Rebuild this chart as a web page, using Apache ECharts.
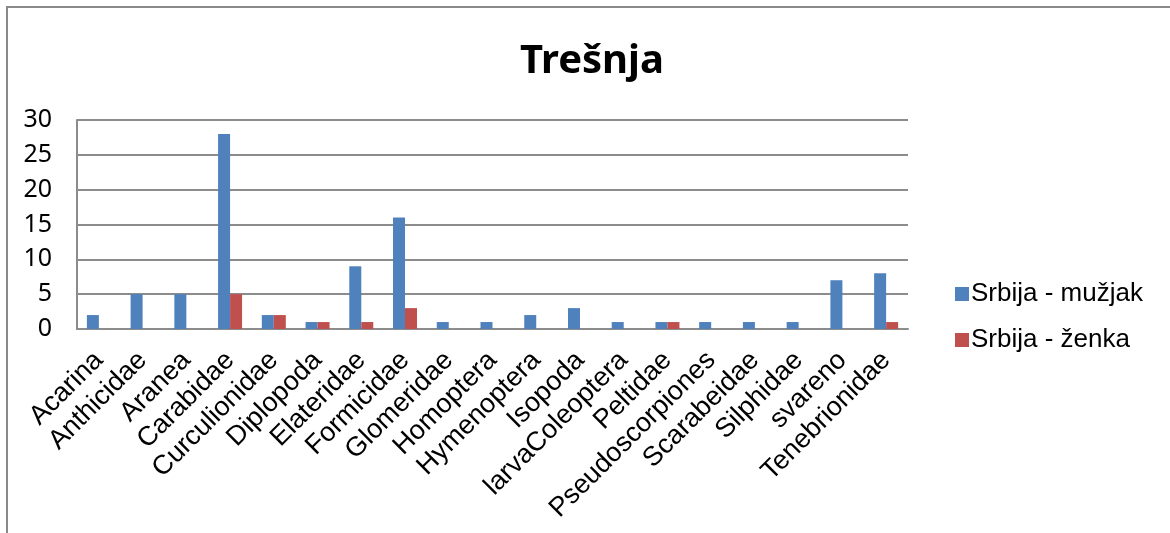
<!DOCTYPE html>
<html>
<head>
<meta charset="utf-8">
<script src="https://cdn.jsdelivr.net/npm/echarts@6/dist/echarts.min.js"></script>
<style>
  html, body { margin: 0; padding: 0; background: #fff; }
  #wrap { position: relative; width: 1170px; height: 533px; overflow: hidden; }
  #frame {
    position: absolute; left: 6px; top: 6px; width: 1200px; height: 600px;
    border-left: 2px solid #8a8a8a; border-top: 2px solid #8a8a8a;
  }
  #chart { position: absolute; left: 0; top: 0; width: 1170px; height: 533px; }
</style>
</head>
<body>
<div id="wrap">
  <div id="frame"></div>
  <div id="chart"></div>
</div>
<script>
const categories = [
  "Acarina", "Anthicidae", "Aranea", "Carabidae", "Curculionidae", "Diplopoda",
  "Elateridae", "Formicidae", "Glomeridae", "Homoptera", "Hymenoptera", "Isopoda",
  "larvaColeoptera", "Peltidae", "Pseudoscorpiones", "Scarabeidae", "Silphidae",
  "svareno", "Tenebrionidae"
];
const maleValues   = [2, 5, 5, 28, 2, 1, 9, 16, 1, 1, 2, 3, 1, 1, 1, 1, 1, 7, 8];
const femaleValues = [0, 0, 0, 5, 2, 1, 1, 3, 0, 0, 0, 0, 0, 1, 0, 0, 0, 0, 1];
const yTicks = [0, 5, 10, 15, 20, 25, 30];

const chart = echarts.init(document.getElementById("chart"));

const option = {
  animation: false,
  backgroundColor: "transparent",
  title: {
    text: "Trešnja",
    left: 587,
    top: 37,
    textAlign: "center",
    textStyle: { fontFamily: "Noto Sans", fontWeight: "bold", fontSize: 40, color: "#000" }
  },
  legend: {
    orient: "vertical",
    left: 950,
    top: 276,
    itemWidth: 14,
    itemHeight: 14,
    itemGap: 20,
    icon: "rect",
    textStyle: { fontFamily: "Liberation Sans", fontSize: 26, color: "#000", padding: [0, 0, 0, -3] },
    data: ["Srbija - mužjak", "Srbija - ženka"]
  },
  grid: { left: 77, right: 262, top: 120, bottom: 204, containLabel: false },
  xAxis: {
    type: "category",
    data: categories,
    axisLine: { lineStyle: { color: "#8c8c8c", width: 2 } },
    axisTick: { show: false },
    axisLabel: {
      rotate: 45,
      interval: 0,
      margin: 27,
      fontFamily: "Liberation Sans",
      fontSize: 27,
      color: "#000"
    }
  },
  yAxis: {
    type: "value",
    min: yTicks[0],
    max: yTicks[yTicks.length - 1],
    interval: 5,
    axisLine: { show: true, lineStyle: { color: "#8c8c8c", width: 2 } },
    axisTick: { show: false },
    splitLine: { lineStyle: { color: "#8c8c8c", width: 2 } },
    axisLabel: {
      margin: 25,
      fontFamily: "Noto Sans",
      fontSize: 25,
      color: "#000"
    }
  },
  series: [
    {
      name: "Srbija - mužjak",
      type: "bar",
      data: maleValues,
      barWidth: 12,
      barGap: "0%",
      itemStyle: { color: "#4F81BD" }
    },
    {
      name: "Srbija - ženka",
      type: "bar",
      data: femaleValues,
      barWidth: 12,
      barGap: "0%",
      itemStyle: { color: "#C0504D" }
    }
  ]
};

chart.setOption(option);
</script>
</body>
</html>
